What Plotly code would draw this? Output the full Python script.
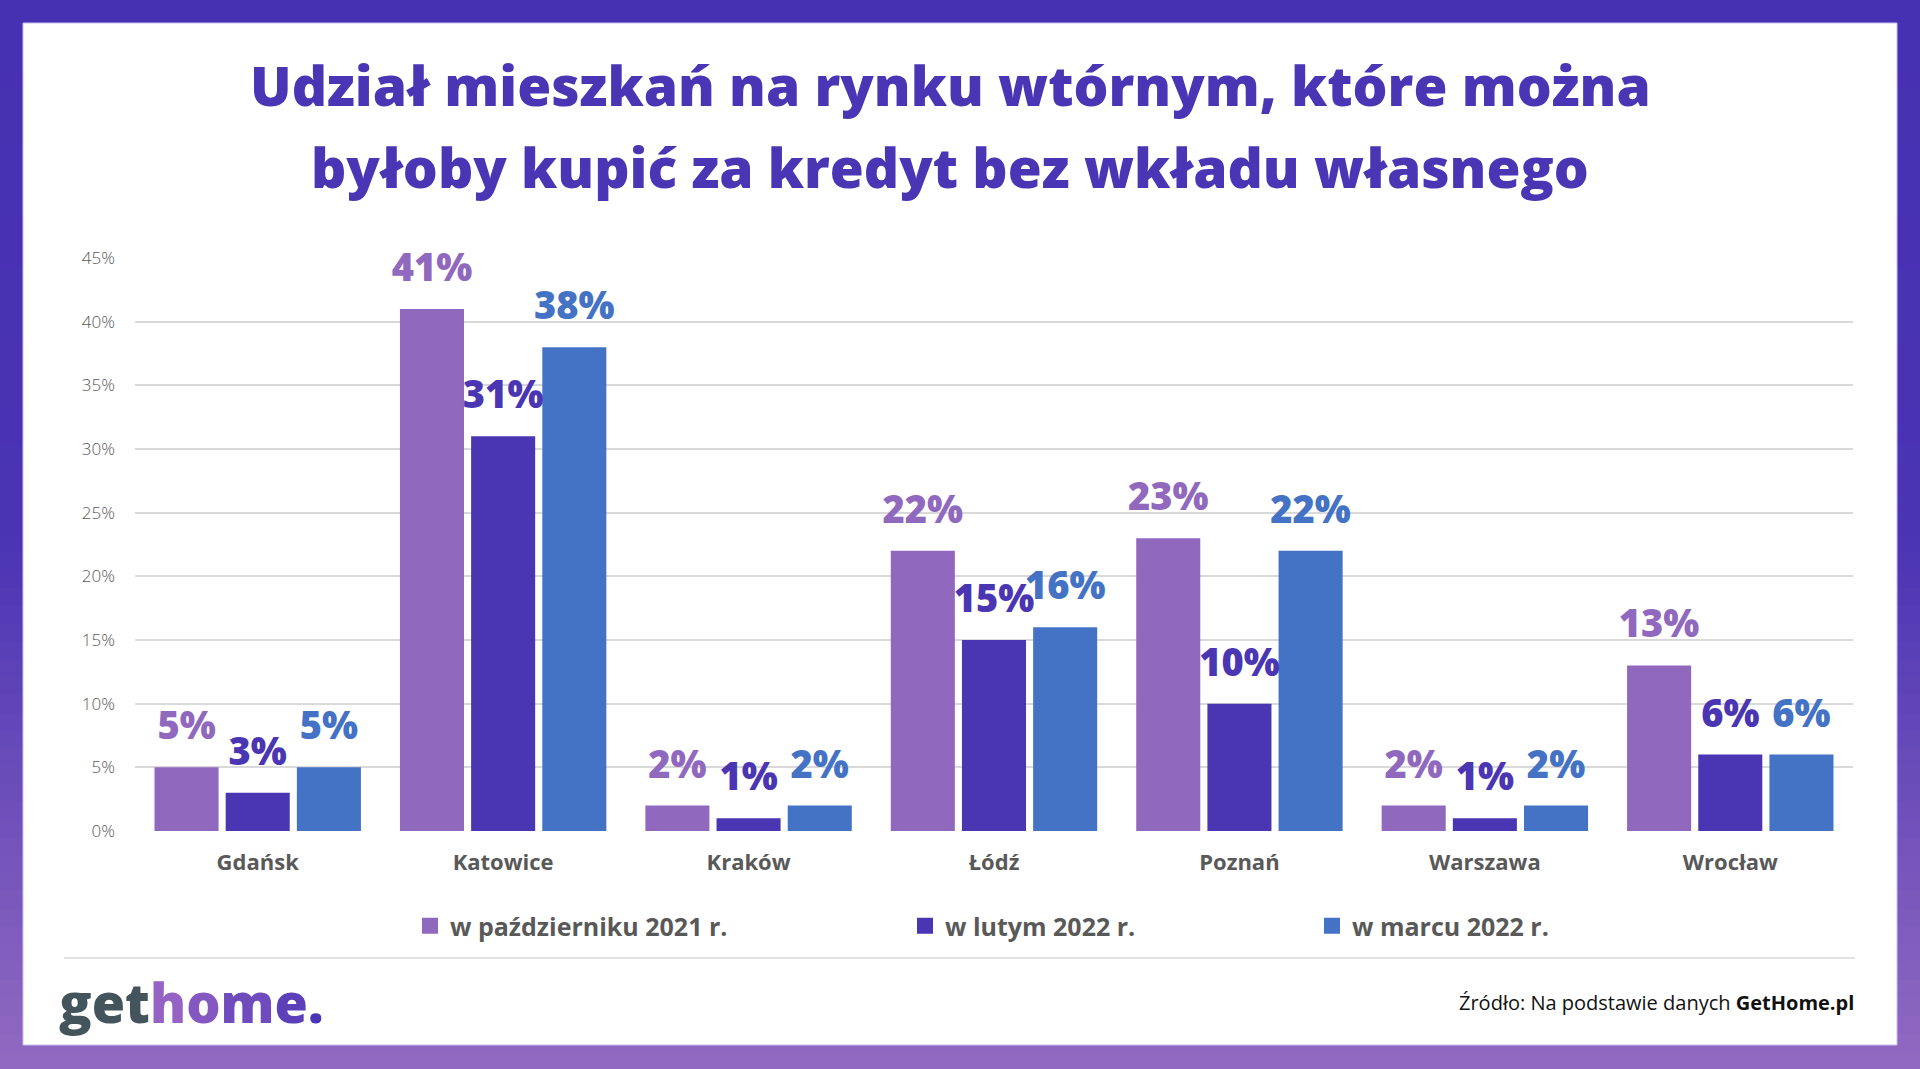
import plotly.graph_objects as go

W, H = 1920, 1069
L, R, T, B = 135, 67, 258, 238
PW, PH = W - L - R, H - T - B

def xp(px):
    return (px - L) / PW

def yp(py):
    return (H - B - py) / PH

cities = ["Gdańsk", "Katowice", "Kraków", "Łódź", "Poznań", "Warszawa", "Wrocław"]
series_names = ["w październiku 2021 r.", "w lutym 2022 r.", "w marcu 2022 r."]
oct_2021 = [5, 41, 2, 22, 23, 2, 13]
feb_2022 = [3, 31, 1, 15, 10, 1, 6]
mar_2022 = [5, 38, 2, 16, 22, 2, 6]
y_ticks = [0, 5, 10, 15, 20, 25, 30, 35, 40, 45]
y_tick_labels = [f"{v}%" for v in y_ticks]

colors = ["#9069bf", "#4a36b3", "#4472c4"]
all_series = [oct_2021, feb_2022, mar_2022]

FONT = "Open Sans"
GREY = "#595959"

fig = go.Figure()
legend_ids = ["legend", "legend2", "legend3"]
for i, (name, vals, col) in enumerate(zip(series_names, all_series, colors)):
    fig.add_trace(go.Bar(
        x=cities, y=vals, name=name, marker=dict(color=col, line=dict(width=0)),
        offsetgroup=str(i), showlegend=False, hoverinfo="skip",
    ))
for i, (name, vals, col) in enumerate(zip(series_names, all_series, colors)):
    fig.add_trace(go.Scatter(
        x=cities, y=vals, mode="markers+text", offsetgroup=str(i),
        text=[f"{v}%" for v in vals], textposition="top center",
        textfont=dict(family=FONT, size=38, color=col, weight=800),
        marker=dict(size=28, opacity=0), showlegend=False, hoverinfo="skip",
        cliponaxis=False,
    ))
# legend entries (square swatches)
for i, (name, col) in enumerate(zip(series_names, colors)):
    fig.add_trace(go.Scatter(
        x=[None], y=[None], mode="markers", name=name, legend=legend_ids[i],
        marker=dict(symbol="square", size=16, color=col), hoverinfo="skip",
    ))

# background frame gradient
def lerp(c1, c2, t):
    a = [int(c1[k:k + 2], 16) for k in (1, 3, 5)]
    b = [int(c2[k:k + 2], 16) for k in (1, 3, 5)]
    return "#" + "".join(f"{round(a[j] + (b[j] - a[j]) * t):02x}" for j in range(3))

shapes = []
n = 60
for k in range(n):
    t = k / (n - 1)
    if t < 0.5:
        c = lerp("#4631b2", "#4a34b4", t / 0.5)
    else:
        c = lerp("#4a34b4", "#9069c0", (t - 0.5) / 0.5)
    y0 = H * k / n
    y1 = H * (k + 1) / n + 1
    shapes.append(dict(type="rect", xref="paper", yref="paper", layer="below",
                       x0=xp(0), x1=xp(W), y0=yp(y1), y1=yp(y0),
                       fillcolor=c, line=dict(width=0)))
shapes.append(dict(type="rect", xref="paper", yref="paper", layer="below",
                   x0=xp(23), x1=xp(1897), y0=yp(1045), y1=yp(23),
                   fillcolor="white", line=dict(width=1, color="#c9bff0")))
shapes.append(dict(type="line", xref="paper", yref="paper", layer="below",
                   x0=xp(64), x1=xp(1855), y0=yp(958), y1=yp(958),
                   line=dict(color="#d9d9d9", width=1.5)))

title_color = "#4a35b5"
annotations = [
    dict(text="Udział mieszkań na rynku wtórnym, które można", x=xp(950), y=yp(84),
         xref="paper", yref="paper", showarrow=False, xanchor="center", yanchor="middle",
         font=dict(family=FONT, size=55, color=title_color, weight=800)),
    dict(text="byłoby kupić za kredyt bez wkładu własnego", x=xp(950), y=yp(167),
         xref="paper", yref="paper", showarrow=False, xanchor="center", yanchor="middle",
         font=dict(family=FONT, size=55, color=title_color, weight=800)),
    dict(text=("<span style='color:#44545c'>get</span>"
               "<span style='color:#9563c3'>h</span><span style='color:#8458c0'>o</span>"
               "<span style='color:#6f4bbd'>m</span><span style='color:#5c40b9'>e</span>"
               "<span style='color:#4a35b5'>.</span>"),
         x=xp(57), y=yp(1002), xref="paper", yref="paper", showarrow=False,
         xanchor="left", yanchor="middle",
         font=dict(family=FONT, size=54, weight=800)),
    dict(text="Źródło: Na podstawie danych <b>GetHome.pl</b>", x=xp(1856), y=yp(1002),
         xref="paper", yref="paper", showarrow=False, xanchor="right", yanchor="middle",
         font=dict(family=FONT, size=20, color="#111111")),
]

leg_common = dict(orientation="h", yanchor="middle", xanchor="left",
                  font=dict(family=FONT, size=25, color=GREY, weight=700),
                  bgcolor="rgba(0,0,0,0)", itemwidth=30)
fig.update_layout(
    width=W, height=H,
    margin=dict(l=L, r=R, t=T, b=B, pad=0),
    paper_bgcolor="#4a34b4", plot_bgcolor="rgba(0,0,0,0)",
    barmode="group", bargap=0.13, bargroupgap=0.1,
    scattermode="group", scattergap=0.13,
    shapes=shapes, annotations=annotations,
    showlegend=True,
    legend=dict(x=xp(410), y=yp(926), **leg_common),
    legend2=dict(x=xp(905), y=yp(926), **leg_common),
    legend3=dict(x=xp(1312), y=yp(926), **leg_common),
    xaxis=dict(tickfont=dict(family=FONT, size=22, color=GREY, weight=700),
               showgrid=False, zeroline=False, showline=False, ticks="",
               ticklabelstandoff=16),
    yaxis=dict(range=[0, 45], tickvals=y_ticks, ticktext=y_tick_labels,
               tickfont=dict(family=FONT, size=17, color=GREY, weight=300),
               gridcolor="#d9d9d9", gridwidth=1.5, zeroline=False, showline=False,
               ticks="", ticklabelstandoff=19),
)

fig.write_html(
    "out.html",
    config={"displayModeBar": False},
    post_script="document.body.style.margin='0';document.body.style.overflow='hidden';",
)
